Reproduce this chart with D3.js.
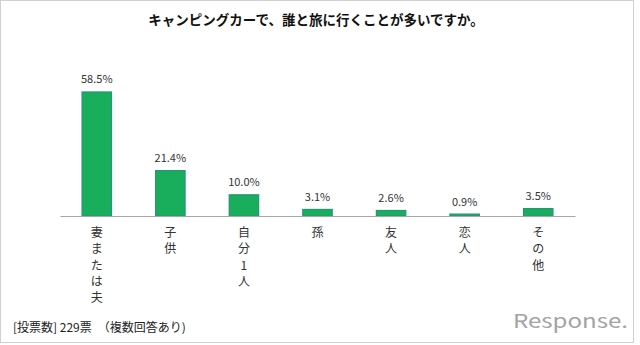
<!DOCTYPE html>
<html>
<head>
<meta charset="utf-8">
<script src="https://cdn.jsdelivr.net/npm/d3@7"></script>
<style>
  html, body { margin: 0; padding: 0; background: #fff; }
  svg { display: block; }
  text { font-family: "Noto Sans CJK JP", "Noto Sans", sans-serif; }
</style>
</head>
<body>
<svg id="chart" width="640" height="345"></svg>
<script>
// Who people travel with in a camper van (multiple answers, % of 229 votes)
const categories = ["妻または夫", "子供", "自分1人", "孫", "友人", "恋人", "その他"];
const values = [58.5, 21.4, 10.0, 3.1, 2.6, 0.9, 3.5];
const valueLabels = ["58.5%", "21.4%", "10.0%", "3.1%", "2.6%", "0.9%", "3.5%"];
const title = "キャンピングカーで、誰と旅に行くことが多いですか。";
const footnote = "[投票数] 229票　（複数回答あり)";

const svg = d3.select("#chart");

// outer frame
svg.append("rect")
  .attr("x", 0.5).attr("y", 0.5)
  .attr("width", 633).attr("height", 342)
  .attr("fill", "#fff")
  .attr("stroke", "#d0d0d0")
  .attr("stroke-width", 1);

// title
svg.append("text")
  .attr("x", 316).attr("y", 25)
  .attr("text-anchor", "middle")
  .attr("font-size", 13.5)
  .attr("font-weight", "bold")
  .attr("fill", "#111")
  .text(title);

const baseY = 216;
const x = d3.scaleBand()
  .domain(categories)
  .range([60, 575])
  .paddingInner(0.6)
  .paddingOuter(0.3);

const y = d3.scaleLinear()
  .domain([0, 60])
  .range([baseY, baseY - 127.2]);

// bars
svg.append("g").selectAll("rect")
  .data(values)
  .join("rect")
  .attr("x", (d, i) => x(categories[i]))
  .attr("y", d => y(d))
  .attr("width", x.bandwidth())
  .attr("height", d => baseY - y(d))
  .attr("fill", "#19ae5c")
  .attr("stroke", "#259479")
  .attr("stroke-width", 1.2);

// value labels
svg.append("g").selectAll("text")
  .data(values)
  .join("text")
  .attr("x", (d, i) => x(categories[i]) + x.bandwidth() / 2)
  .attr("y", d => y(d) - 8.5)
  .attr("text-anchor", "middle")
  .attr("font-size", 11)
  .attr("fill", "#333")
  .text((d, i) => valueLabels[i]);

// category axis line
const axis = d3.axisBottom(x).tickSize(0).tickFormat("");
const axisG = svg.append("g")
  .attr("transform", `translate(0,${baseY})`)
  .call(axis);
axisG.select(".domain").attr("stroke", "#a6a6a6").attr("stroke-width", 1.2);

// vertical category labels, one character per line
const catG = svg.append("g");
categories.forEach(c => {
  const t = catG.append("text")
    .attr("x", x(c) + x.bandwidth() / 2)
    .attr("y", 237)
    .attr("text-anchor", "middle")
    .attr("font-size", 12)
    .attr("fill", "#333");
  Array.from(c).forEach((ch, j) => {
    t.append("tspan")
      .attr("x", x(c) + x.bandwidth() / 2)
      .attr("dy", j === 0 ? 0 : 16.3)
      .text(ch);
  });
});

// footnote
svg.append("text")
  .attr("x", 13).attr("y", 332)
  .attr("font-size", 12)
  .attr("fill", "#222")
  .text(footnote);

// publisher mark
const logo = svg.append("g").attr("fill", "#a3a3a3");
logo.append("text")
  .attr("x", 513).attr("y", 328)
  .attr("font-family", "DejaVu Sans")
  .attr("font-size", 19)
  .attr("textLength", 115)
  .attr("lengthAdjust", "spacingAndGlyphs")
  .text("Response.");
</script>
</body>
</html>
